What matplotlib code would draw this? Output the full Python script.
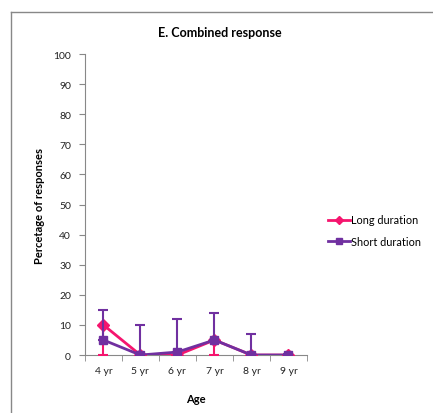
import matplotlib.pyplot as plt
from matplotlib.lines import Line2D
import numpy as np

ages = ["4 yr", "5 yr", "6 yr", "7 yr", "8 yr", "9 yr"]
long_duration = [10, 0, 0, 5, 0, 0]
short_duration = [5, 0, 1, 5, 0, 0]
long_err_minus = [10, 0, 0, 5, 0, 0]
short_err_plus = [10, 10, 11, 9, 7, 0.5]

pink = "#F5156E"
purple = "#7030A0"

plt.rcParams["font.family"] = ["Lato", "DejaVu Sans"]

fig = plt.figure(figsize=(4.33, 4.14), dpi=100)
ax = fig.add_axes([0.196, 0.140, 0.513, 0.727])

x = np.arange(len(ages))

ax.errorbar(x, long_duration, yerr=[long_err_minus, [0] * len(x)], color=pink,
            lw=2, marker="D", ms=6, capsize=3.5, elinewidth=1.5, capthick=1.5,
            zorder=3)
ax.errorbar(x, short_duration, yerr=[[0] * len(x), short_err_plus], color=purple,
            lw=2, marker="s", ms=6, capsize=3.5, elinewidth=1.5, capthick=1.5,
            zorder=4)

ax.set_xlim(-0.45, 5.5)
ax.set_ylim(0, 100)
ax.set_yticks(range(0, 101, 10))
ax.set_xticks(x)
ax.set_xticklabels(ages)
ax.set_xticks(np.arange(-0.5, 6, 1), minor=True)
ax.tick_params(axis="x", which="major", length=0, pad=8)
ax.tick_params(axis="x", which="minor", length=4, color="#888888")
ax.tick_params(axis="y", length=4, color="#888888", pad=6)
ax.tick_params(labelsize=7.5, labelcolor="#222222")

for s in ["top", "right"]:
    ax.spines[s].set_visible(False)
for s in ["left", "bottom"]:
    ax.spines[s].set_color("#888888")

fig.text(0.508, 0.92, "E. Combined response", fontsize=9, fontweight="bold",
         ha="center", va="center")
ax.set_ylabel("Percetage of responses", fontsize=8, fontweight="bold", labelpad=6)
ax.set_xlabel("Age", fontsize=8, fontweight="bold", labelpad=13)

handles = [
    Line2D([], [], color=pink, lw=2, marker="D", ms=4.5),
    Line2D([], [], color=purple, lw=2, marker="s", ms=4.5),
]
fig.legend(handles, ["Long duration", "Short duration"], loc="center left",
           bbox_to_anchor=(0.735, 0.44), frameon=False, fontsize=7.8,
           handlelength=2.0, handletextpad=0.1, labelspacing=1.0)

# outer chart frame (left and top edges visible)
fig.add_artist(Line2D([0.026, 0.026], [0.0, 0.969], color="#888888", lw=1))
fig.add_artist(Line2D([0.026, 1.0], [0.969, 0.969], color="#888888", lw=1))

fig.savefig("out.png", dpi=100)
